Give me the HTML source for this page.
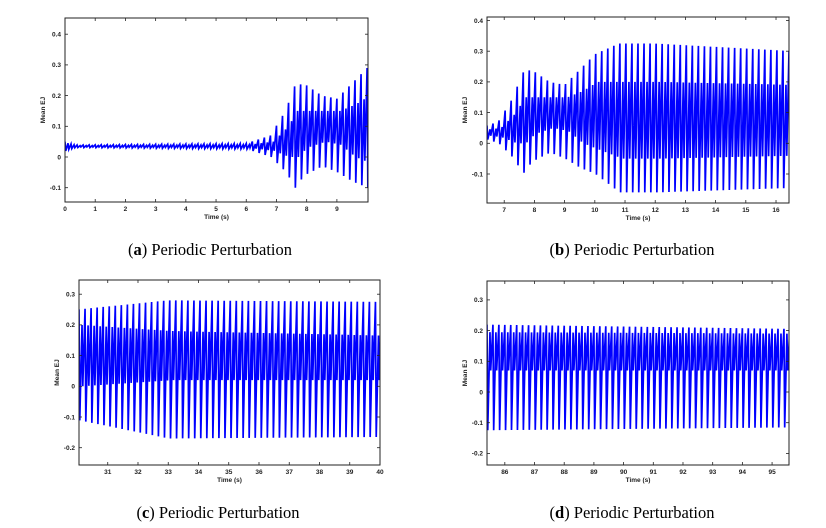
<!DOCTYPE html>
<html><head><meta charset="utf-8"><style>
html,body{margin:0;padding:0;background:#fff;}
svg{display:block;}
.t{font-family:"Liberation Sans",sans-serif;font-size:6.5px;font-weight:bold;fill:#222;}
.cap{font-family:"Liberation Serif",serif;font-size:16.5px;fill:#000;}
</style></head><body>
<svg id="s" width="826" height="528" xmlns="http://www.w3.org/2000/svg">
<text class="cap" x="210" y="255" text-anchor="middle">(<tspan font-weight="bold">a</tspan>) Periodic Perturbation</text>
<text class="cap" x="632" y="255" text-anchor="middle">(<tspan font-weight="bold">b</tspan>) Periodic Perturbation</text>
<text class="cap" x="218" y="518" text-anchor="middle">(<tspan font-weight="bold">c</tspan>) Periodic Perturbation</text>
<text class="cap" x="632" y="518" text-anchor="middle">(<tspan font-weight="bold">d</tspan>) Periodic Perturbation</text>
</svg>
<script>
var NS="http://www.w3.org/2000/svg",S=document.getElementById("s");
function el(n,a,p){var e=document.createElementNS(NS,n);for(var k in a)e.setAttribute(k,a[k]);(p||S).appendChild(e);return e;}
function interp(E,t){if(t<=E[0][0])return E[0].slice(1);for(var i=1;i<E.length;i++){if(t<=E[i][0]){var a=E[i-1],b=E[i],f=(t-a[0])/(b[0]-a[0]);return a.slice(1).map(function(v,j){return v+(b[j+1]-v)*f;});}}return E[E.length-1].slice(1);}
var EAB=[[0,.05,.02,.045,.025],[0.3,.039,.031,.037,.033],[6,.044,.026,.04,.03],[6.8,.07,0,.05,.02],[7.3,.15,-.05,.1,0],[7.6,.23,-.1,.15,0],[7.9,.24,-.06,.15,.03],[8.5,.2,-.03,.15,.05],[9,.19,-.05,.15,.04],[9.5,.24,-.08,.17,0],[10,.29,-.1,.2,-.02],[10.8,.325,-.16,.2,-.05],[12,.325,-.16,.2,-.05],[16.6,.30,-.145,.19,-.04]];
var EC=[[30,.25,-.11,.2,0],[33,.28,-.17,.18,.02],[40.1,.275,-.165,.165,.02]];
var ED=[[85,.22,-.125,.195,.07],[96,.205,-.115,.19,.07]];
function panel(P){
 var sx=function(t){return P.x0+(t-P.t0)/(P.t1-P.t0)*(P.x1-P.x0);};
 var sy=function(v){return P.z-v*307;};
 var id="c"+P.x0+P.top;
 var cp=el("clipPath",{id:id});el("rect",{x:P.x0,y:P.top,width:P.x1-P.x0,height:P.bot-P.top},cp);
 var pts=[];
 for(var t=P.t0-0.2;t<P.t1+0.2;t+=0.2){
  var v=interp(P.E,t);
  pts.push([t,v[0]],[t+0.025,v[1]],[t+0.1,v[2]],[t+0.125,v[3]]);
 }
 el("polyline",{points:pts.map(function(p){return sx(p[0]).toFixed(2)+","+sy(p[1]).toFixed(2);}).join(" "),fill:"none",stroke:"#0000ff","stroke-width":1.7,"clip-path":"url(#"+id+")"});
 el("rect",{x:P.x0,y:P.top,width:P.x1-P.x0,height:P.bot-P.top,fill:"none",stroke:"#222","stroke-width":1});
 P.xt.forEach(function(k){var x=sx(k);
  el("line",{x1:x,x2:x,y1:P.bot,y2:P.bot-3,stroke:"#222","stroke-width":.8});
  el("line",{x1:x,x2:x,y1:P.top,y2:P.top+3,stroke:"#222","stroke-width":.8});
  el("text",{x:x,y:P.bot+9,"text-anchor":"middle","class":"t"}).textContent=k;});
 P.yt.forEach(function(k){var y=sy(k);
  el("line",{x1:P.x0,x2:P.x0+3,y1:y,y2:y,stroke:"#222","stroke-width":.8});
  el("line",{x1:P.x1,x2:P.x1-3,y1:y,y2:y,stroke:"#222","stroke-width":.8});
  el("text",{x:P.x0-4,y:y+2.3,"text-anchor":"end","class":"t"}).textContent=(k==0?"0":String(k));});
 el("text",{x:(P.x0+P.x1)/2,y:P.bot+17,"text-anchor":"middle","class":"t"}).textContent="Time (s)";
 var ly=(P.top+P.bot)/2,lx=P.x0-20;
 el("text",{x:lx,y:ly,"text-anchor":"middle","class":"t",transform:"rotate(-90 "+lx+" "+ly+")"}).textContent="Mean EJ";
}
panel({x0:65,x1:368,top:18,bot:202,z:157,t0:0,t1:10.03,E:EAB,xt:[0,1,2,3,4,5,6,7,8,9],yt:[-0.1,0,0.1,0.2,0.3,0.4]});
panel({x0:487,x1:789,top:17,bot:203,z:143.3,t0:6.43,t1:16.43,E:EAB,xt:[7,8,9,10,11,12,13,14,15,16],yt:[-0.1,0,0.1,0.2,0.3,0.4]});
panel({x0:79,x1:380,top:280,bot:465,z:386.3,t0:30.05,t1:40,E:EC,xt:[31,32,33,34,35,36,37,38,39,40],yt:[-0.2,-0.1,0,0.1,0.2,0.3]});
panel({x0:487,x1:789,top:281,bot:465,z:392,t0:85.4,t1:95.57,E:ED,xt:[86,87,88,89,90,91,92,93,94,95],yt:[-0.2,-0.1,0,0.1,0.2,0.3]});
</script>
</body></html>
